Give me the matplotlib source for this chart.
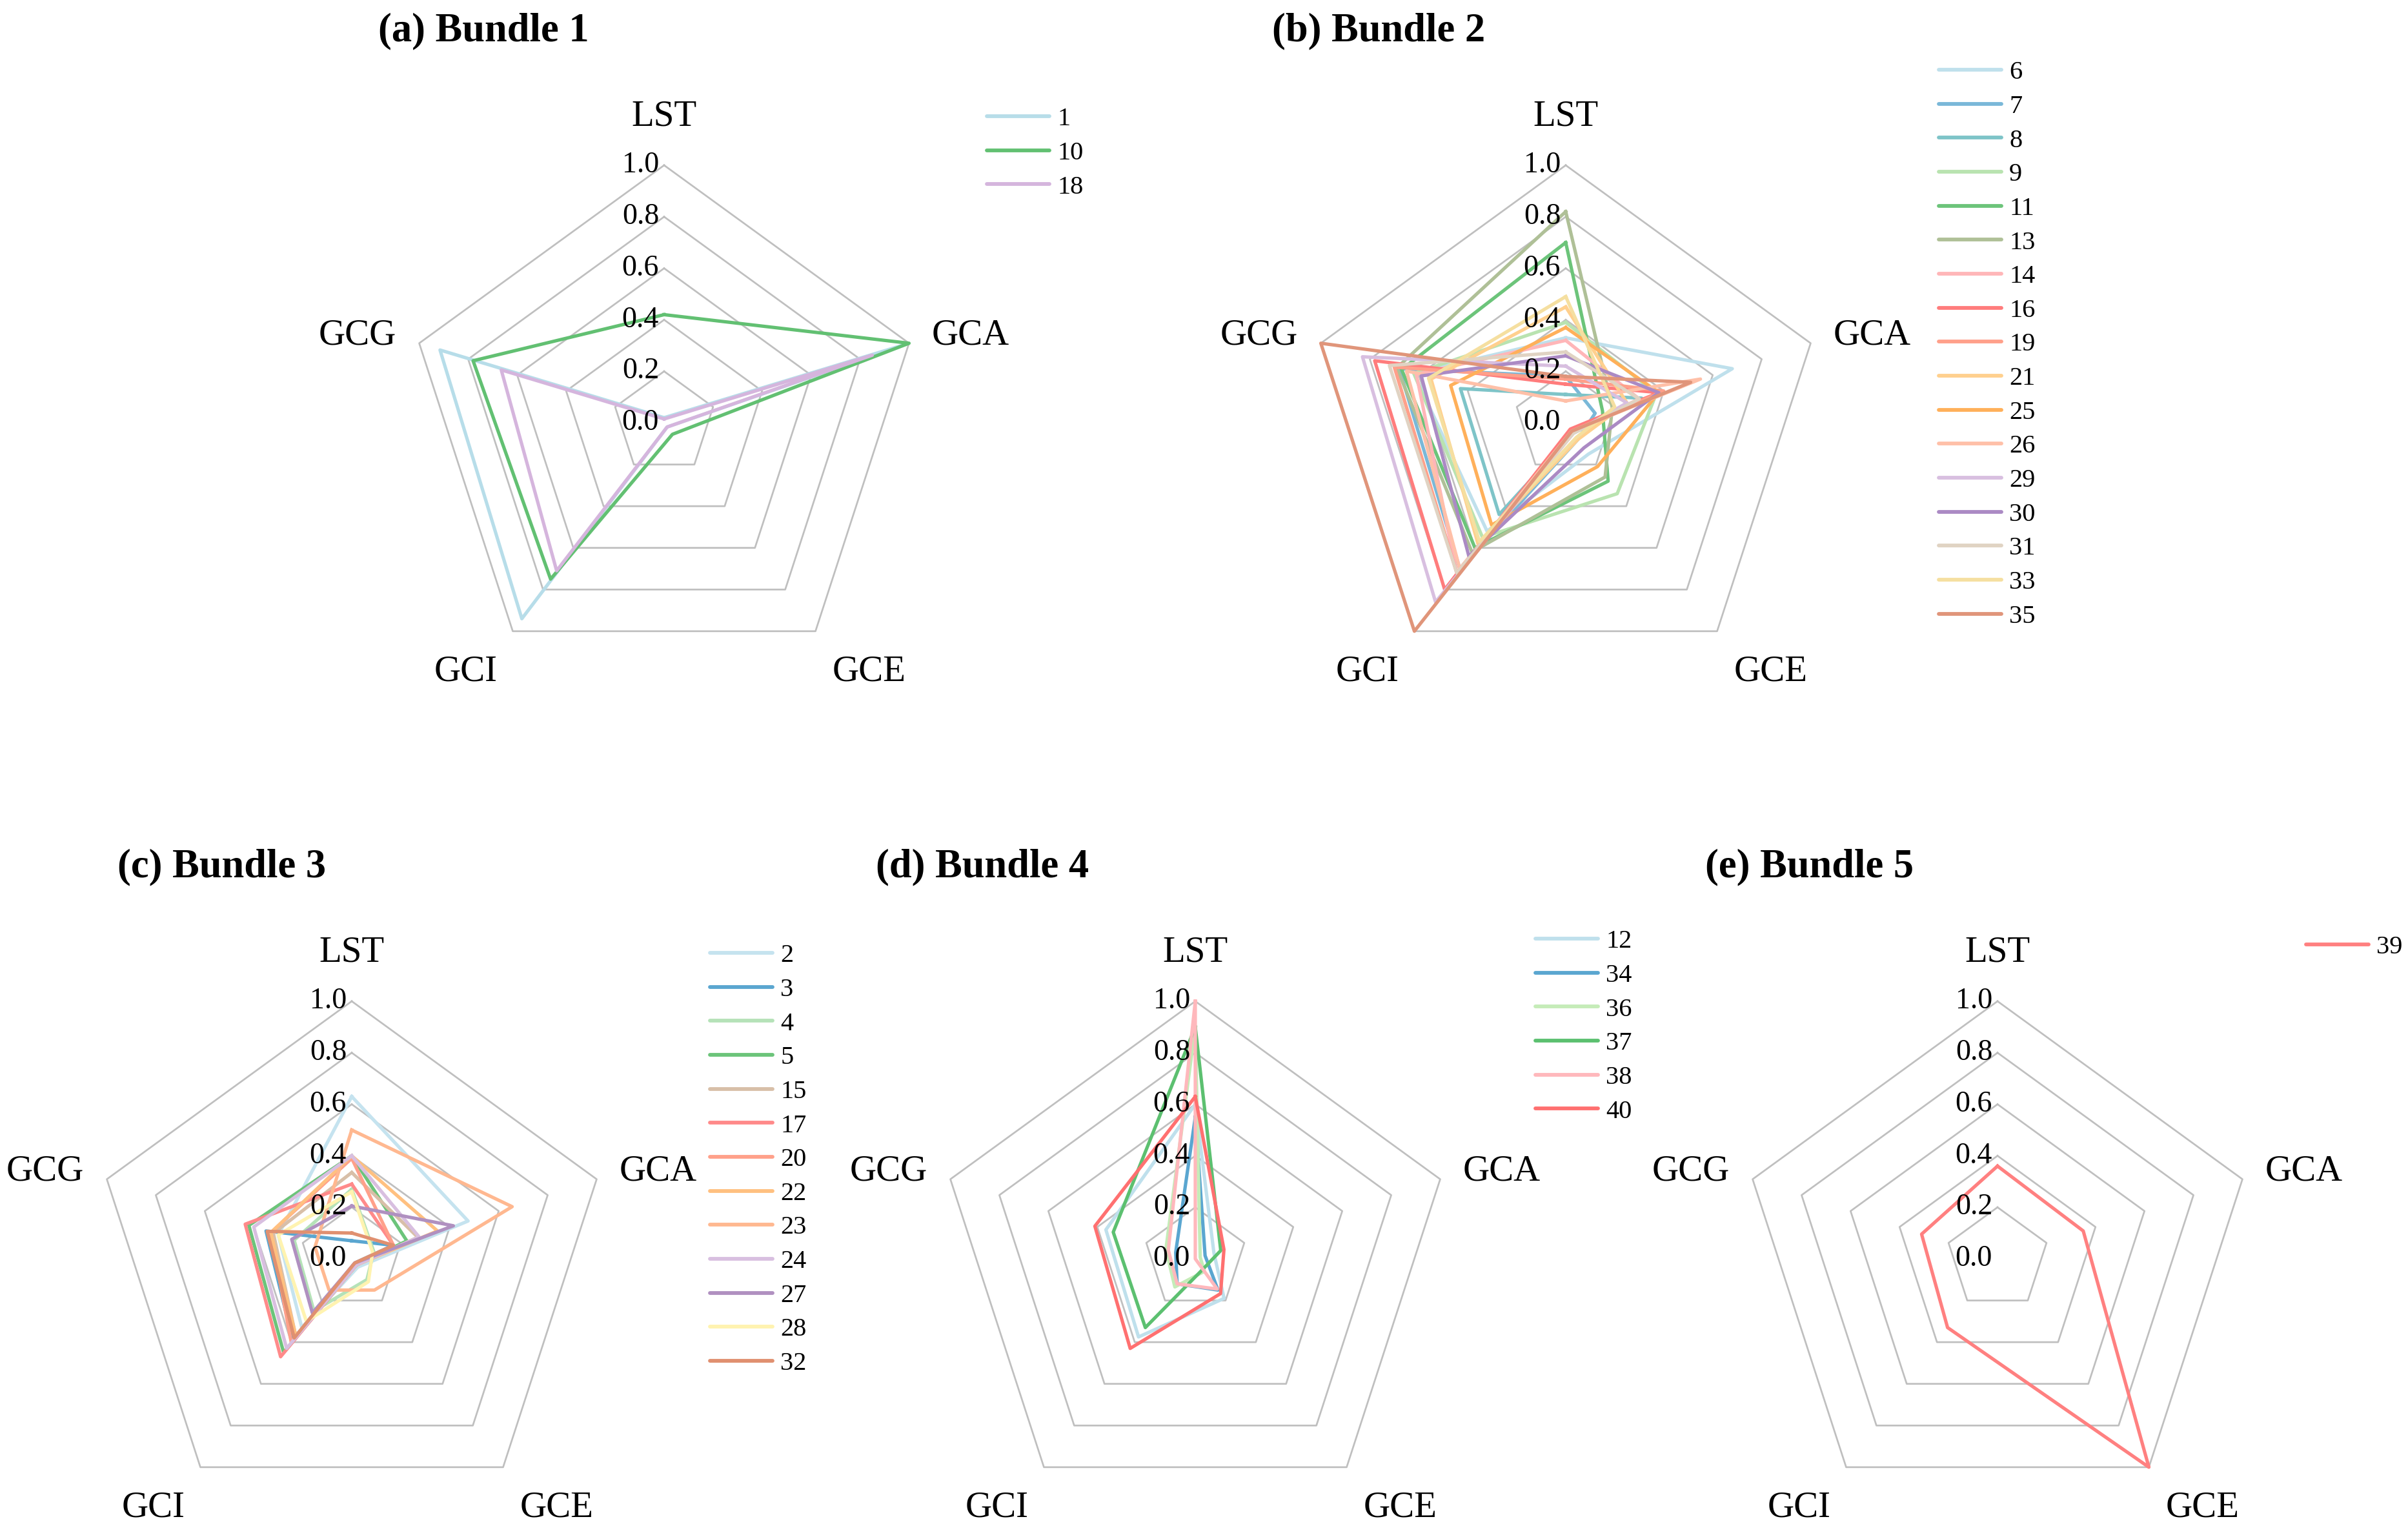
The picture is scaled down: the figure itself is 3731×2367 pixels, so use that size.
import numpy as np
import matplotlib.pyplot as plt
from matplotlib.lines import Line2D

plt.rcParams['font.family'] = ['Liberation Serif', 'DejaVu Serif']

# Axes of every radar and the ring values
axis_names = ['LST', 'GCA', 'GCE', 'GCI', 'GCG']
ring_values = [0.2, 0.4, 0.6, 0.8, 1.0]
tick_labels = ['0.0', '0.2', '0.4', '0.6', '0.8', '1.0']

# Bundle 1
b1_ids = ['1', '10', '18']
b1_colors = ['#b7dde9', '#62c072', '#d5b5dd']
b1_values = [
    [0.02, 0.98, 0.02, 0.94, 0.915],
    [0.42, 1.00, 0.055, 0.75, 0.78],
    [0.015, 0.85, 0.02, 0.71, 0.665],
]

# Bundle 2
b2_ids = ['6', '7', '8', '9', '11', '13', '14', '16', '19', '21', '25', '26',
          '29', '30', '31', '33', '35']
b2_colors = ['#bfe0ec', '#7ab8d8', '#7ec4c8', '#b9e3b0', '#6cc47a', '#afc097',
             '#ffb6b8', '#ff7c7c', '#ffa08a', '#ffd08e', '#ffb05a', '#ffc0a8',
             '#d8bfe0', '#ab8ac4', '#e0d3c3', '#f5dfa0', '#e0957a']
b2_values = [
    [0.33, 0.68, 0.15, 0.52, 0.62],
    [0.18, 0.12, 0.08, 0.70, 0.68],
    [0.11, 0.31, 0.05, 0.44, 0.43],
    [0.39, 0.37, 0.34, 0.55, 0.62],
    [0.70, 0.15, 0.28, 0.60, 0.67],
    [0.82, 0.19, 0.26, 0.62, 0.69],
    [0.32, 0.30, 0.04, 0.72, 0.61],
    [0.15, 0.38, 0.03, 0.80, 0.78],
    [0.17, 0.40, 0.04, 0.72, 0.70],
    [0.45, 0.25, 0.08, 0.58, 0.55],
    [0.37, 0.38, 0.21, 0.49, 0.47],
    [0.085, 0.55, 0.04, 0.70, 0.65],
    [0.22, 0.25, 0.05, 0.86, 0.83],
    [0.26, 0.38, 0.12, 0.64, 0.59],
    [0.275, 0.30, 0.05, 0.72, 0.72],
    [0.49, 0.20, 0.07, 0.57, 0.56],
    [0.18, 0.51, 0.04, 1.00, 1.00],
]

# Bundle 3
b3_ids = ['2', '3', '4', '5', '15', '17', '20', '22', '23', '24', '27', '28', '32']
b3_colors = ['#c5e3ef', '#5aa6d0', '#b5e2b8', '#6cc47a', '#d8bfa8', '#ff8a8a',
             '#ffa08a', '#ffc080', '#ffb890', '#d8bfe0', '#b090c0', '#fff3b0',
             '#e09070']
b3_values = [
    [0.63, 0.475, 0.04, 0.33, 0.30],
    [0.07, 0.17, 0.02, 0.39, 0.35],
    [0.27, 0.09, 0.10, 0.25, 0.235],
    [0.40, 0.225, 0.03, 0.45, 0.42],
    [0.335, 0.27, 0.03, 0.37, 0.32],
    [0.29, 0.17, 0.03, 0.47, 0.435],
    [0.39, 0.17, 0.03, 0.40, 0.33],
    [0.40, 0.35, 0.03, 0.37, 0.33],
    [0.50, 0.655, 0.15, 0.15, 0.15],
    [0.40, 0.275, 0.03, 0.43, 0.40],
    [0.205, 0.415, 0.02, 0.26, 0.245],
    [0.26, 0.085, 0.11, 0.30, 0.30],
    [0.10, 0.17, 0.02, 0.38, 0.345],
]

# Bundle 4
b4_ids = ['12', '34', '36', '37', '38', '40']
b4_colors = ['#bfe0ec', '#5aa6d0', '#c5ecb8', '#5cc070', '#ffb8bc', '#ff7070']
b4_values = [
    [0.60, 0.076, 0.19, 0.375, 0.365],
    [0.55, 0.04, 0.15, 0.12, 0.08],
    [0.90, 0.02, 0.06, 0.135, 0.12],
    [0.90, 0.104, 0.05, 0.33, 0.335],
    [1.00, 0.00, 0.145, 0.12, 0.11],
    [0.63, 0.117, 0.167, 0.43, 0.41],
]

# Bundle 5
b5_ids = ['39']
b5_colors = ['#ff8080']
b5_values = [
    [0.36, 0.35, 1.00, 0.33, 0.31],
]

W, H = 3731, 2367
R = 399
fig = plt.figure(figsize=(W / 300, H / 300), dpi=300)

angles = np.pi / 2 - 2 * np.pi * np.arange(5) / 5
label_pos = [(0, 1.19), (1.19, 0.34), (0.795, -0.965), (-0.77, -0.965), (-1.19, 0.34)]


def radar(cx, cy, title, title_x, ids, values, colors, leg_x, leg_y, leg_gap):
    half = 1.35 * R
    ax = fig.add_axes([(cx - half) / W, 1 - (cy + half) / H, 2 * half / W, 2 * half / H])
    ax.set_xlim(-1.35, 1.35)
    ax.set_ylim(-1.35, 1.35)
    ax.axis('off')

    # pentagon rings
    for r in ring_values:
        xs = np.append(r * np.cos(angles), r * np.cos(angles[0]))
        ys = np.append(r * np.sin(angles), r * np.sin(angles[0]))
        ax.plot(xs, ys, color='#bfbfbf', lw=0.65, zorder=1)

    handles = []
    for sid, vals, col in zip(ids, values, colors):
        v = np.array(vals + vals[:1])
        a = np.append(angles, angles[0])
        ax.plot(v * np.cos(a), v * np.sin(a), color=col, lw=1.25, zorder=2)
        handles.append(Line2D([0], [0], color=col, lw=1.4, solid_capstyle='round'))

    for i, lab in enumerate(tick_labels):
        ax.text(-0.02, i * 0.2, lab, ha='right', va='center', fontsize=11, zorder=3)

    for name, (lx, ly) in zip(axis_names, label_pos):
        ax.text(lx, ly, name, ha='center', va='center', fontsize=13.7)

    fig.text(title_x / W, 1 - (cy - 607) / H, title, ha='left', va='center',
             fontsize=15, fontweight='bold')

    fig.legend(handles, ids, loc='upper left',
               bbox_to_anchor=(leg_x / W, 1 - (leg_y - 16) / H),
               frameon=False, borderpad=0, borderaxespad=0, fontsize=9.7,
               handlelength=2.4, handletextpad=0.3, labelspacing=leg_gap)


radar(1029, 655, '(a) Bundle 1', 586, b1_ids, b1_values, b1_colors, 1529, 182, 0.38)
radar(2426, 655, '(b) Bundle 2', 1971, b2_ids, b2_values, b2_colors, 3004, 110, 0.38)
radar(545, 1950, '(c) Bundle 3', 182, b3_ids, b3_values, b3_colors, 1100, 1478, 0.38)
radar(1852, 1950, '(d) Bundle 4', 1357, b4_ids, b4_values, b4_colors, 2379, 1456, 0.38)
radar(3095, 1950, '(e) Bundle 5', 2642, b5_ids, b5_values, b5_colors, 3573, 1465, 0.38)

fig.savefig('out.png', dpi=300)
